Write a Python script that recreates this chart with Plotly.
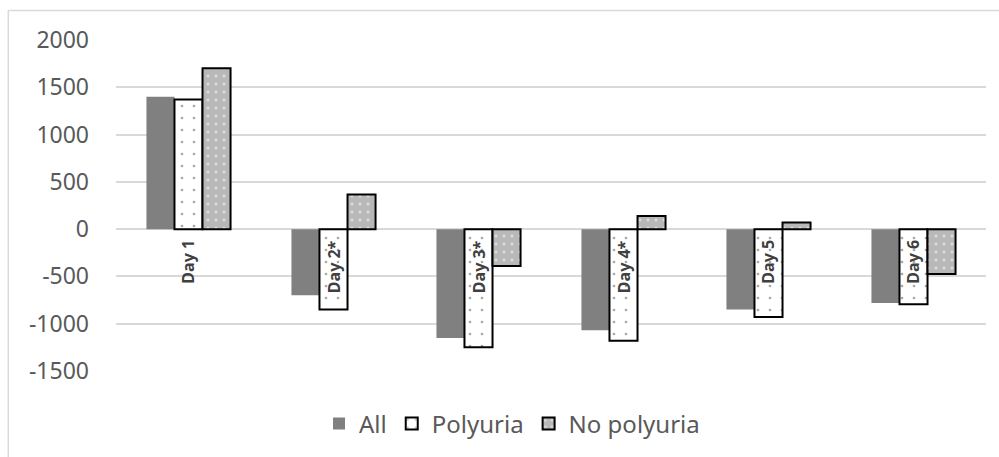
import plotly.graph_objects as go

categories = ["Day 1", "Day 2*", "Day 3*", "Day 4*", "Day 5", "Day 6"]
all_vals = [1400, -700, -1150, -1070, -850, -780]
polyuria_vals = [1370, -850, -1250, -1180, -930, -795]
no_polyuria_vals = [1700, 365, -390, 140, 70, -475]
y_ticks = [2000, 1500, 1000, 500, 0, -500, -1000, -1500]

W, H = 999, 457
ML, MR, MT, MB = 116, 13, 40, 86
PW, PH = W - ML - MR, H - MT - MB

def px_x(x):
    return (x - ML) / PW

def px_y(y):
    return (H - MB - y) / PH

font_family = "Noto Sans, Open Sans, sans-serif"
grey_text = "#595959"

fig = go.Figure()
fig.add_trace(go.Bar(
    name="All", x=categories, y=all_vals,
    marker=dict(color="#808080", line=dict(width=0)),
))
fig.add_trace(go.Bar(
    name="Polyuria", x=categories, y=polyuria_vals,
    marker=dict(
        color="white",
        line=dict(color="black", width=2),
        pattern=dict(shape=".", bgcolor="white", fgcolor="#505050",
                     size=12, solidity=0.04, fillmode="overlay"),
    ),
))
fig.add_trace(go.Bar(
    name="No polyuria", x=categories, y=no_polyuria_vals,
    marker=dict(
        color="#b8b8b8",
        line=dict(color="black", width=2),
        pattern=dict(shape=".", bgcolor="#b8b8b8", fgcolor="white",
                     size=8, solidity=0.12, fillmode="overlay"),
    ),
))

for c in categories:
    fig.add_annotation(
        x=c, y=0, xref="x", yref="y", text=c, showarrow=False,
        textangle=-90, yanchor="top", xanchor="center", yshift=-9,
        font=dict(family=font_family, size=16, color="#404040", weight="bold"),
    )

# chart border (top and left edges visible)
fig.add_shape(type="line", xref="paper", yref="paper",
              x0=px_x(8), x1=px_x(999), y0=px_y(10.5), y1=px_y(10.5),
              line=dict(color="#d9d9d9", width=1.5))
fig.add_shape(type="line", xref="paper", yref="paper",
              x0=px_x(8.3), x1=px_x(8.3), y0=px_y(10.5), y1=px_y(457),
              line=dict(color="#d9d9d9", width=1.5))

fig.update_layout(
    width=W, height=H,
    margin=dict(l=ML, r=MR, t=MT, b=MB, autoexpand=False),
    paper_bgcolor="white", plot_bgcolor="white",
    barmode="group", bargap=0.42, bargroupgap=0,
    font=dict(family=font_family, color=grey_text),
    showlegend=True,
    legend=dict(
        orientation="h", x=px_x(512), xanchor="center",
        y=px_y(424), yanchor="middle",
        font=dict(size=24, color=grey_text),
        itemwidth=30, tracegroupgap=0,
    ),
    xaxis=dict(showticklabels=False, showgrid=False, zeroline=False,
               showline=False, ticks=""),
    yaxis=dict(
        range=[-1500, 2000], tickvals=y_ticks,
        ticktext=[str(v) for v in y_ticks],
        showgrid=True, gridcolor="#d9d9d9", gridwidth=1.5,
        zeroline=True, zerolinecolor="#d9d9d9", zerolinewidth=1.5,
        showline=False, ticks="", ticklabelstandoff=26,
        tickfont=dict(size=23, color=grey_text),
    ),
)

fig.write_html(
    "out.html",
    config={"displayModeBar": False},
    post_script="document.body.style.margin='0';document.body.style.overflow='hidden';",
)
